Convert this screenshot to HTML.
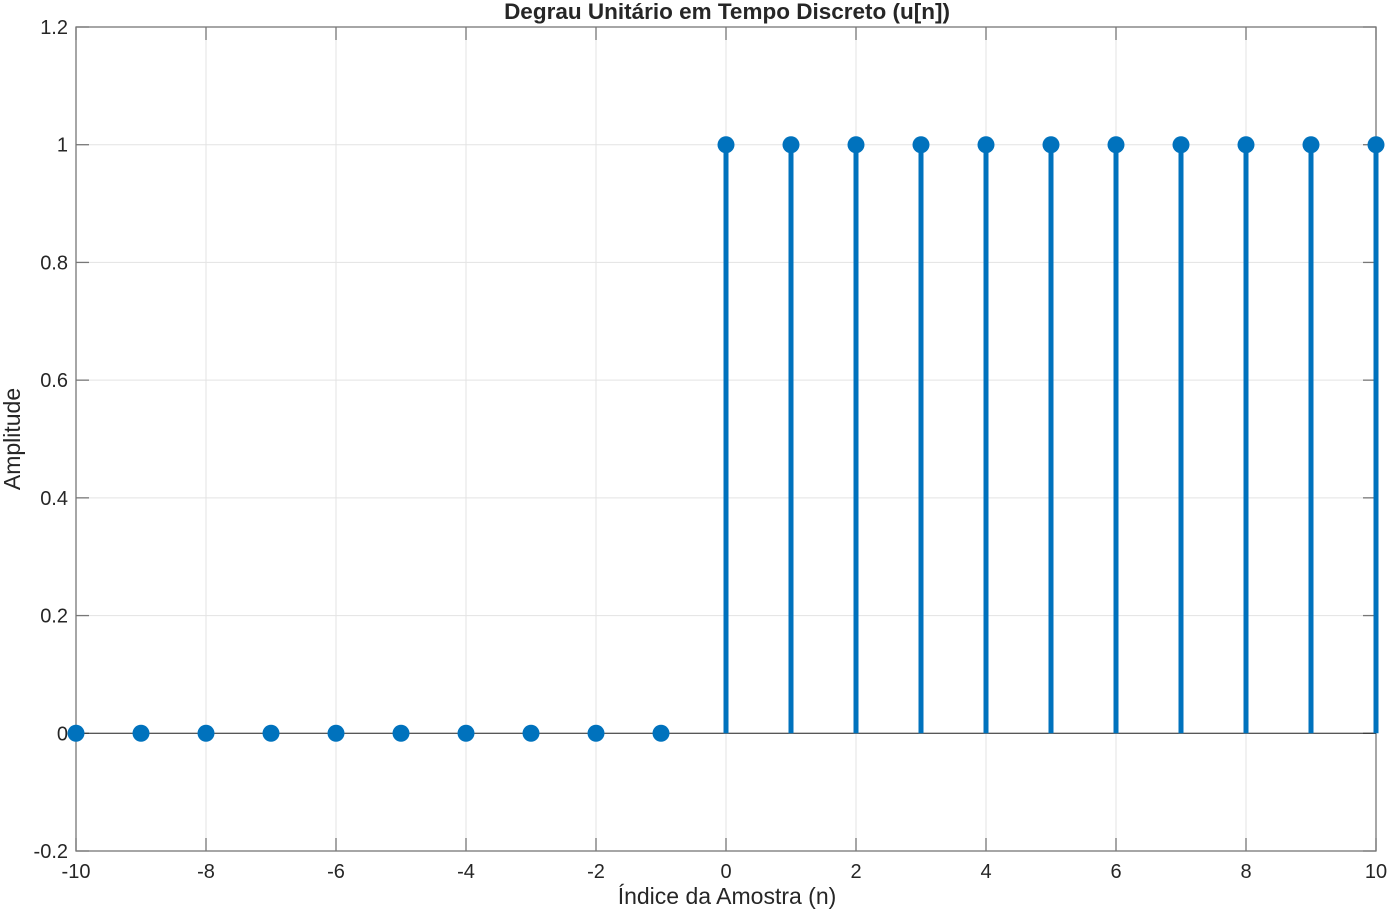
<!DOCTYPE html>
<html><head><meta charset="utf-8"><style>
body{margin:0;background:#fff}
svg text{font-family:"Liberation Sans",Arial,sans-serif;fill:#262626}
</style></head><body>
<svg id="chart" width="1390" height="912" viewBox="0 0 1390 912" xmlns="http://www.w3.org/2000/svg">
<g id="grid"></g>
<g id="axes"></g>
<g id="marks"></g>
<text x="727" y="19" text-anchor="middle" font-size="22.5" font-weight="bold">Degrau Unitário em Tempo Discreto (u[n])</text>
<text x="727" y="904" text-anchor="middle" font-size="23">Índice da Amostra (n)</text>
<text x="20" y="439" text-anchor="middle" font-size="23" transform="rotate(-90 20 439)">Amplitude</text>
</svg>
<script>
const nValues=[-10,-9,-8,-7,-6,-5,-4,-3,-2,-1,0,1,2,3,4,5,6,7,8,9,10];
const uValues=[0,0,0,0,0,0,0,0,0,0,1,1,1,1,1,1,1,1,1,1,1];
const xTicks=[-10,-8,-6,-4,-2,0,2,4,6,8,10];
const yTicks=[-0.2,0,0.2,0.4,0.6,0.8,1,1.2];
const yTickLabels=["-0.2","0","0.2","0.4","0.6","0.8","1","1.2"];
const L=76,R=1376,T=27,B=851;
const xs=v=>L+(v+10)/20*(R-L);
const ys=v=>B-(v+0.2)/1.4*(B-T);
const NS="http://www.w3.org/2000/svg";
function mk(p,t,a){const e=document.createElementNS(NS,t);for(const k in a)e.setAttribute(k,a[k]);p.appendChild(e);return e;}
const grid=document.getElementById('grid'),axes=document.getElementById('axes'),marks=document.getElementById('marks');
xTicks.forEach(v=>{
 const g=mk(grid,'line',{x1:xs(v),x2:xs(v),y1:T,y2:B,stroke:'#e3e3e3','stroke-width':1});
 
 
 mk(axes,'line',{x1:xs(v),x2:xs(v),y1:T,y2:T+13,stroke:'#777','stroke-width':1.3});
 mk(axes,'line',{x1:xs(v),x2:xs(v),y1:B,y2:B-13,stroke:'#777','stroke-width':1.3});
 const t=mk(axes,'text',{x:xs(v),y:B+27,'text-anchor':'middle','font-size':20});
 t.textContent=String(v);
 
 
});
yTicks.forEach((v,i)=>{
 const g=mk(grid,'line',{x1:L,x2:R,y1:ys(v),y2:ys(v),stroke:'#e3e3e3','stroke-width':1});
 
 
 mk(axes,'line',{x1:L,x2:L+13,y1:ys(v),y2:ys(v),stroke:'#777','stroke-width':1.3});
 mk(axes,'line',{x1:R,x2:R-13,y1:ys(v),y2:ys(v),stroke:'#777','stroke-width':1.3});
 const t=mk(axes,'text',{x:L-8,y:ys(v)+7,'text-anchor':'end','font-size':20});
 t.textContent=yTickLabels[i];
 
 
});
mk(axes,'rect',{x:L,y:T,width:R-L,height:B-T,fill:'none',stroke:'#777','stroke-width':1.3});
const base=mk(marks,'line',{x1:L,x2:R,y1:ys(0),y2:ys(0),stroke:'#262626','stroke-width':1});


nValues.forEach((n,i)=>{
 const s=mk(marks,'line',{x1:xs(n),x2:xs(n),y1:ys(0),y2:ys(uValues[i]),stroke:'#0072BD','stroke-width':5});
 
 
 const c=mk(marks,'circle',{cx:xs(n),cy:ys(uValues[i]),r:8.5,fill:'#0072BD'});
 
 
});
</script>
</body></html>
